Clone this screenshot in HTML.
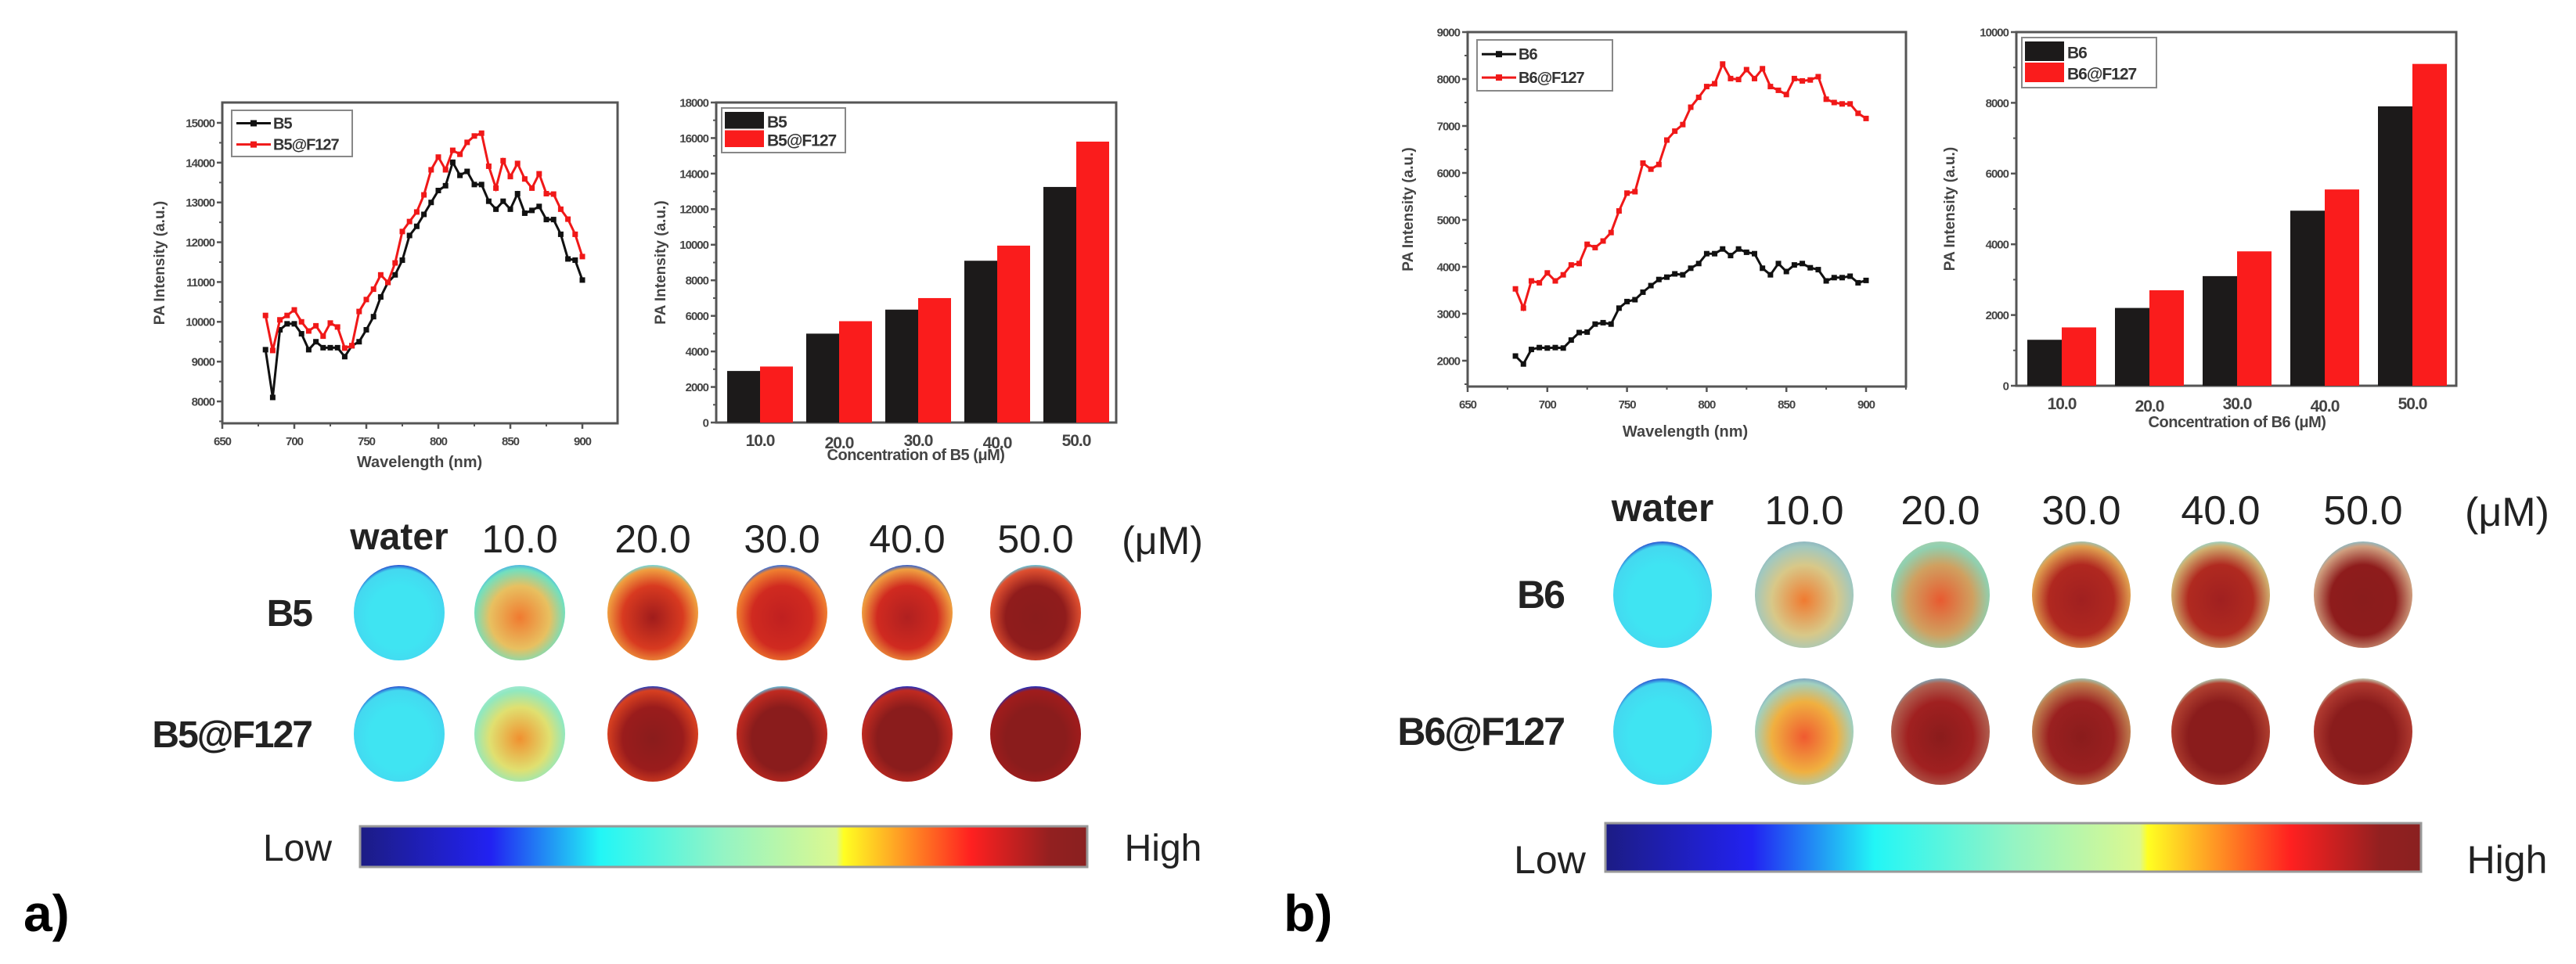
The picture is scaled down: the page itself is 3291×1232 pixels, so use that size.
<!DOCTYPE html>
<html><head><meta charset="utf-8"><style>
html,body{margin:0;padding:0;background:#fff;}
svg{display:block;}
text{font-family:"Liberation Sans",Arial,sans-serif;}
</style></head><body>
<svg id="fig" width="3291" height="1232" viewBox="0 0 3291 1232" xmlns="http://www.w3.org/2000/svg">
<defs>
<linearGradient id="jet" x1="0" x2="1" y1="0" y2="0">
<stop offset="0" stop-color="#1c1c84"/><stop offset="0.18" stop-color="#2222f2"/>
<stop offset="0.33" stop-color="#22f6f6"/><stop offset="0.5" stop-color="#94f4c4"/>
<stop offset="0.655" stop-color="#dcf890"/><stop offset="0.665" stop-color="#ffff22"/>
<stop offset="0.74" stop-color="#ffa024"/><stop offset="0.84" stop-color="#ff2020"/>
<stop offset="0.95" stop-color="#922020"/><stop offset="1" stop-color="#8a2020"/>
</linearGradient>
</defs>
</svg>
<script>
// ---------- data ----------
const wavelengths = [680,685,690,695,700,705,710,715,720,725,730,735,740,745,750,755,760,765,770,775,780,785,790,795,800,805,810,815,820,825,830,835,840,845,850,855,860,865,870,875,880,885,890,895,900];
const b5Values = [9300,8100,9800,9950,9950,9700,9300,9500,9350,9350,9350,9125,9400,9500,9800,10130,10625,10990,11180,11550,12170,12400,12700,13000,13300,13420,14010,13680,13780,13450,13450,13030,12830,13030,12830,13220,12730,12800,12900,12570,12570,12200,11580,11550,11050];
const b5F127Values = [10160,9280,10050,10160,10300,10000,9770,9900,9640,9970,9870,9340,9400,10260,10560,10820,11180,10990,11480,12270,12520,12760,13190,13820,14140,13820,14310,14210,14510,14670,14740,13910,13360,14050,13650,13980,13590,13360,13720,13220,13210,12830,12580,12200,11640];
const b6Values = [2100,1930,2240,2280,2270,2280,2270,2440,2600,2610,2780,2810,2780,3120,3260,3300,3460,3600,3730,3780,3850,3830,3970,4070,4280,4280,4380,4240,4380,4310,4280,3970,3830,4070,3900,4040,4070,3980,3940,3700,3770,3770,3800,3660,3710];
const b6F127Values = [3530,3120,3700,3660,3870,3700,3830,4040,4070,4480,4410,4550,4730,5190,5570,5600,6210,6080,6180,6700,6890,7030,7400,7610,7840,7900,8320,8010,7990,8200,8010,8220,7840,7760,7670,8010,7960,7980,8050,7570,7500,7470,7470,7270,7160];
const concentrations = ["10.0","20.0","30.0","40.0","50.0"];
const barB5 = [2900,5000,6350,9100,13250];
const barB5F127 = [3150,5700,7000,9950,15800];
const barB6 = [1300,2200,3100,4950,7900];
const barB6F127 = [1650,2700,3800,5550,9100];
const lineXTicks = [650,700,750,800,850,900];
const lineAYTicks = [8000,9000,10000,11000,12000,13000,14000,15000];
const lineBYTicks = [2000,3000,4000,5000,6000,7000,8000,9000];
const barAYTicks = [0,2000,4000,6000,8000,10000,12000,14000,16000,18000];
const barBYTicks = [0,2000,4000,6000,8000,10000];

const NS = "http://www.w3.org/2000/svg";
const svg = document.getElementById('fig');
function el(tag, attrs, parent, txt){
  const e = document.createElementNS(NS, tag);
  for (const k in attrs) e.setAttribute(k, attrs[k]);
  if (txt !== undefined) e.textContent = txt;
  (parent||svg).appendChild(e);
  return e;
}
function group(name){
  const g = el('g', {});
  
  
  return g;
}
function axisFrame(g, L, T, R, B){
  const r = el('rect', {x:L, y:T, width:R-L, height:B-T, fill:'none', stroke:'#555', 'stroke-width':3}, g);
  
  
}
function yAxis(g, L, ticks, ys, minorStep, ymin, ymax, fs){
  for (const t of ticks){
    const y = ys(t);
    el('line', {x1:L-7, x2:L, y1:y, y2:y, stroke:'#555', 'stroke-width':2.5}, g);
    const lb = el('text', {x:L-10, y:y+fs*0.36, 'font-size':fs, 'font-weight':'bold', 'text-anchor':'end', fill:'#444', 'letter-spacing':'-1'}, g, String(t));
    
    
  }
  for (let v = ymin; v <= ymax; v += minorStep){
    el('line', {x1:L-4, x2:L, y1:ys(v), y2:ys(v), stroke:'#555', 'stroke-width':2}, g);
  }
}
function yTitle(g, x, cy, fs){
  const t = el('text', {x:x, y:cy, 'font-size':fs, 'font-weight':'bold', 'text-anchor':'middle', fill:'#444', transform:`rotate(-90 ${x} ${cy})`}, g, 'PA Intensity (a.u.)');
  
  
}

// ---------- line charts ----------
function lineChart(cfg){
  const g = group(cfg.name);
  const xs = v => cfg.L + (v - 650) * cfg.pxPerNm;
  const ys = v => cfg.y0 - (v - cfg.v0) * cfg.pxPerUnit;
  axisFrame(g, cfg.L, cfg.T, cfg.R, cfg.B);
  yAxis(g, cfg.L, cfg.yTicks, ys, cfg.minor, cfg.yTicks[0]-cfg.minor*(cfg.extraMinor||0), cfg.yTicks[cfg.yTicks.length-1], cfg.fs);
  for (const t of cfg.xTicks){
    const x = xs(t);
    el('line', {x1:x, x2:x, y1:cfg.B, y2:cfg.B+7, stroke:'#555', 'stroke-width':2.5}, g);
    const lb = el('text', {x:x, y:cfg.B+28, 'font-size':cfg.fs, 'font-weight':'bold', 'text-anchor':'middle', fill:'#444', 'letter-spacing':'-1'}, g, String(t));
    
    
  }
  for (let v = 675; v <= 925; v += 50){
    if (xs(v) < cfg.R) el('line', {x1:xs(v), x2:xs(v), y1:cfg.B, y2:cfg.B+4, stroke:'#555', 'stroke-width':2}, g);
  }
  const xt = el('text', {x:cfg.xTitleX, y:cfg.xTitleY, 'font-size':cfg.fs+5, 'font-weight':'bold', 'text-anchor':'middle', fill:'#444'}, g, 'Wavelength (nm)');
  
  
  yTitle(g, cfg.yTitleX, (cfg.T+cfg.B)/2, cfg.fs+4);
  cfg.series.forEach(s => {
    const pts = wavelengths.map((w,i) => xs(w).toFixed(1)+','+ys(s.values[i]).toFixed(1)).join(' ');
    const pl = el('polyline', {points:pts, fill:'none', stroke:s.color, 'stroke-width':3}, g);
    
    
    wavelengths.forEach((w,i) => {
      const m = el('rect', {x:xs(w)-3.5, y:ys(s.values[i])-3.5, width:7, height:7, fill:s.color}, g);
      
      
    });
  });
  // legend
  const lg = el('g', {}, g);
  
  
  const [lx, ly, lw, lh] = cfg.legend;
  el('rect', {x:lx, y:ly, width:lw, height:lh, fill:'#fff', stroke:'#888', 'stroke-width':2}, lg);
  cfg.series.forEach((s,i) => {
    const cy = ly + lh*(0.28 + 0.46*i);
    el('line', {x1:lx+6, x2:lx+50, y1:cy, y2:cy, stroke:s.color, 'stroke-width':3}, lg);
    el('rect', {x:lx+24, y:cy-4, width:8, height:8, fill:s.color}, lg);
    const t = el('text', {x:lx+53, y:cy+7, 'font-size':20, 'font-weight':'bold', fill:'#333', 'letter-spacing':'-1'}, lg, s.label);
    
    
  });
}
lineChart({name:'line-chart-b5', L:284, T:131, R:789, B:541, pxPerNm:1.84, v0:15000, y0:157, pxPerUnit:0.05086,
  yTicks:lineAYTicks, minor:500, extraMinor:1, xTicks:lineXTicks, fs:15, xTitleX:536, xTitleY:597, yTitleX:210,
  legend:[296,141,154,59],
  series:[{key:'b5', label:'B5', color:'#111', values:b5Values},{key:'b5-f127', label:'B5@F127', color:'#f01818', values:b5F127Values}]});
lineChart({name:'line-chart-b6', L:1875, T:41, R:2435, B:494, pxPerNm:2.036, v0:9000, y0:41, pxPerUnit:0.06,
  yTicks:lineBYTicks, minor:500, extraMinor:1, xTicks:lineXTicks, fs:15, xTitleX:2153, xTitleY:558, yTitleX:1805,
  legend:[1887,51,173,65],
  series:[{key:'b6', label:'B6', color:'#111', values:b6Values},{key:'b6-f127', label:'B6@F127', color:'#f01818', values:b6F127Values}]});

// ---------- bar charts ----------
function barChart(cfg){
  const g = group(cfg.name);
  const ys = v => cfg.B - v * (cfg.B - cfg.T) / cfg.ymax;
  const xc = i => cfg.L + cfg.offset + i * cfg.step;
  axisFrame(g, cfg.L, cfg.T, cfg.R, cfg.B);
  yAxis(g, cfg.L, cfg.yTicks, ys, 1000, 0, cfg.ymax, 15);
  concentrations.forEach((c,i) => {
    const lb = el('text', {x:xc(i), y:cfg.B+ (i%2? 33:30), 'font-size':21, 'font-weight':'bold', 'text-anchor':'middle', fill:'#444', 'letter-spacing':'-1'}, g, c);
    
    
  });
  cfg.series.forEach((s,si) => {
    s.values.forEach((v,i) => {
      const x = si === 0 ? xc(i) - cfg.bw : xc(i);
      const r = el('rect', {x:x, y:ys(v), width:cfg.bw, height:cfg.B-ys(v), fill:s.color}, g);
      
      
    });
  });
  const xt = el('text', {x:cfg.xTitleX, y:cfg.xTitleY, 'font-size':20, 'font-weight':'bold', 'text-anchor':'middle', fill:'#444', 'letter-spacing':'-0.5'}, g, cfg.xTitle);
  
  
  yTitle(g, cfg.yTitleX, (cfg.T+cfg.B)/2, 19);
  const lg = el('g', {}, g);
  
  
  const [lx, ly, lw, lh] = cfg.legend;
  el('rect', {x:lx, y:ly, width:lw, height:lh, fill:'#fff', stroke:'#888', 'stroke-width':2}, lg);
  cfg.series.forEach((s,i) => {
    const sy = ly + 5 + i*(lh-10)/2;
    el('rect', {x:lx+4, y:sy, width:50, height:(lh-10)/2 - 2, fill:s.color}, lg);
    const t = el('text', {x:lx+58, y:sy + (lh-10)/4 + 8, 'font-size':21, 'font-weight':'bold', fill:'#333', 'letter-spacing':'-1'}, lg, s.label);
    
    
  });
}
barChart({name:'bar-chart-b5', L:915, T:131, R:1426, B:540, ymax:18000, yTicks:barAYTicks, offset:56, step:101, bw:42,
  xTitle:'Concentration of B5 (\u03bcM)', xTitleX:1170, xTitleY:588, yTitleX:850, legend:[922,138,158,57],
  series:[{key:'b5', label:'B5', color:'#1c1a1a', values:barB5},{key:'b5-f127', label:'B5@F127', color:'#fa1c1c', values:barB5F127}]});
barChart({name:'bar-chart-b6', L:2576, T:41, R:3138, B:493, ymax:10000, yTicks:barBYTicks, offset:58, step:112, bw:44,
  xTitle:'Concentration of B6 (\u03bcM)', xTitleX:2858, xTitleY:546, yTitleX:2497, legend:[2583,48,172,64],
  series:[{key:'b6', label:'B6', color:'#1c1a1a', values:barB6},{key:'b6-f127', label:'B6@F127', color:'#fa1c1c', values:barB6F127}]});

// ---------- PA images ----------
const defs = svg.querySelector('defs');
let gid = 0;
function well(g, cx, cy, rx, ry, cols, rim){
  const id = 'w' + (gid++);
  const rg = el('radialGradient', {id:id, cx:'0.5', cy:'0.55', r:'0.55'}, defs);
  el('stop', {offset:'0', 'stop-color':cols[0]}, rg);
  el('stop', {offset:'0.6', 'stop-color':cols[1]}, rg);
  el('stop', {offset:'0.92', 'stop-color':cols[2]}, rg);
  el('stop', {offset:'1', 'stop-color':rim}, rg);
  const e = el('ellipse', {cx:cx, cy:cy, rx:rx, ry:ry, fill:`url(#${id})`}, g);
  
  
}
function txt(g, name, x, y, s, fs, opts){
  const t = el('text', Object.assign({x:x, y:y, 'font-size':fs, fill:'#222'}, opts||{}), g, s);
  
  
  return t;
}
function imagePanel(p){
  const g = group(p.name);
  txt(g, 'water-column-label', p.cols[0], p.headY, 'water', p.fs, {'text-anchor':'middle','font-family':'Liberation Serif, serif','font-weight':'bold'});
  concentrations.forEach((c,i) => txt(g, 'concentration-label', p.cols[i+1], p.headY + 4, c, p.fs+2, {'text-anchor':'middle'}));
  txt(g, 'unit-label', p.unitX, p.headY + 6, '(\u03bcM)', p.fs+2, {'text-anchor':'middle'});
  txt(g, 'row-label', p.rowLabelX, p.rows[0]+17, p.labels[0], p.fs, {'text-anchor':'end','font-weight':'bold','letter-spacing':'-2'});
  txt(g, 'row-label', p.rowLabelX, p.rows[1]+17, p.labels[1], p.fs, {'text-anchor':'end','font-weight':'bold','letter-spacing':'-2'});
  p.wells.forEach((row, r) => row.forEach((w, i) => well(g, p.cols[i], p.rows[r], p.rx, p.ry, w.c, w.rim)));
  const cb = el('rect', {x:p.cb[0], y:p.cb[1], width:p.cb[2], height:p.cb[3], fill:'url(#jet)', stroke:'#999', 'stroke-width':3}, g);
  
  
  txt(g, 'colorbar-low-label', p.lowX, p.cbTextY, 'Low', p.fs, {'text-anchor':'middle'});
  txt(g, 'colorbar-high-label', p.highX, p.cbTextY, 'High', p.fs, {'text-anchor':'middle'});
  txt(g, 'panel-label', p.panel[0], p.panel[1], p.panel[2], 66, {'font-family':'Liberation Serif, serif','font-weight':'bold','fill':'#000'});
}
const CY = '#3fe4f2';
imagePanel({name:'pa-images-b5', fs:48, headY:702, cols:[510,664,834,999,1159,1323], unitX:1485, rows:[783,938], rx:58, ry:61,
  labels:['B5','B5@F127'], rowLabelX:398,
  wells:[
    [{c:[CY,CY,'#44d8f0'],rim:'#2a50d0'},{c:['#f07a30','#e8c060','#70e0c0'],rim:'#50b8e0'},{c:['#a01c1c','#d83a20','#f0a040'],rim:'#70d8e0'},
     {c:['#c02020','#d02a20','#f08030'],rim:'#3070e0'},{c:['#b02020','#d02a20','#f0a040'],rim:'#3060d0'},{c:['#8a1c1c','#901c1c','#e05030'],rim:'#60c8e0'}],
    [{c:[CY,CY,'#44d8f0'],rim:'#2a50d0'},{c:['#f09030','#e0e070','#90e8c0'],rim:'#a0e8d0'},{c:['#8a1c1c','#9a1c1c','#d84020'],rim:'#2040c0'},
     {c:['#8a1c1c','#8a1c1c','#c02a20'],rim:'#60c0e0'},{c:['#8a1c1c','#8a1c1c','#c02a20'],rim:'#2030c0'},{c:['#8a1c1c','#8a1c1c','#a01c1c'],rim:'#2030c0'}]
  ],
  cb:[460,1056,929,52], lowX:380, highX:1486, cbTextY:1100, panel:[30,1190,'a)']});
imagePanel({name:'pa-images-b6', fs:50, headY:666, cols:[2124,2305,2479,2659,2837,3019], unitX:3203, rows:[760,935], rx:63, ry:68,
  labels:['B6','B6@F127'], rowLabelX:1998,
  wells:[
    [{c:[CY,CY,'#44d8f0'],rim:'#2a50d0'},{c:['#f07a30','#d8c888','#a0c8c0'],rim:'#90b8c0'},{c:['#e85a30','#d0a060','#90d0b0'],rim:'#a0d0b0'},
     {c:['#a02020','#b02820','#e0a050'],rim:'#a0c0b0'},{c:['#a02020','#b02a20','#d0b070'],rim:'#a0d0c0'},{c:['#8a1c1c','#8e1c1c','#d0a080'],rim:'#90b8c0'}],
    [{c:[CY,CY,'#44d8f0'],rim:'#2a50d0'},{c:['#f05a30','#f0b040','#a0d0c0'],rim:'#80a8c0'},{c:['#8a1c1c','#a02020','#b06050'],rim:'#80a0b0'},
     {c:['#8a1c1c','#9a2020','#c08050'],rim:'#a0c0b0'},{c:['#8a1c1c','#8a1c1c','#b04030'],rim:'#b0c8b0'},{c:['#8a1c1c','#8a1c1c','#b03a30'],rim:'#c0c8b0'}]
  ],
  cb:[2051,1052,1042,62], lowX:1980, highX:3203, cbTextY:1116, panel:[1640,1190,'b)']});
</script>
</body></html>
